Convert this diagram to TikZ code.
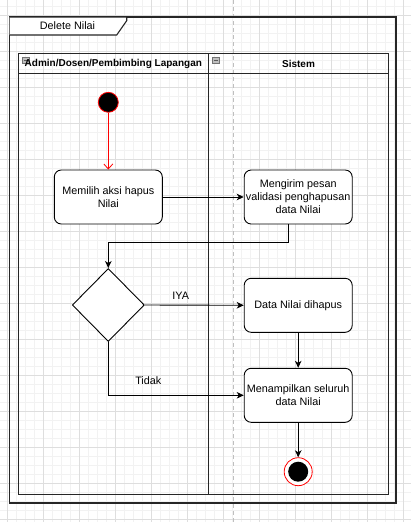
\documentclass[tikz,border=0pt]{standalone}
\usepackage{fontspec}
\setmainfont{Liberation Sans}
\usetikzlibrary{shapes.geometric,arrows.meta}
\begin{document}
\begin{tikzpicture}[x=1pt,y=-1pt,
  every node/.style={font=\fontsize{10.8}{13}\selectfont},
  actbox/.style={draw=black,line width=0.9pt,rounded corners=7pt,minimum width=108pt,minimum height=54pt,inner sep=0pt,align=center,fill=white},
  flow/.style={draw=black,line width=0.9pt,-{Stealth[length=7pt,width=6.5pt,inset=2pt]}},
  lane/.style={draw=black!85,line width=1.1pt},
  hdr/.style={font=\fontsize{10}{12}\selectfont\bfseries},
  icon/.style={draw=black!55,fill=black!25,line width=0.4pt}
]
\useasboundingbox (0,0) rectangle (411,522);
\fill[white] (0,0) rectangle (411,522);
% grid
\foreach \i in {0,...,45} {
  \draw[black!5,line width=0.5pt] (7.3+9*\i,0) -- (7.3+9*\i,522);
}
\foreach \i in {0,...,57} {
  \draw[black!5,line width=0.5pt] (0,6.3+9*\i) -- (411,6.3+9*\i);
}
\foreach \i in {0,...,11} {
  \draw[black!13,line width=0.6pt] (7.3+36*\i,0) -- (7.3+36*\i,522);
}
\foreach \i in {0,...,14} {
  \draw[black!13,line width=0.6pt] (0,15.3+36*\i) -- (411,15.3+36*\i);
}
\draw[black!25,line width=0.8pt,dash pattern=on 4pt off 3pt] (233.3,0) -- (233.3,522);

% outer frame
\draw[lane] (9.7,17) rectangle (396,503);
\draw[lane,fill=white] (9.7,17) -- (126.7,17) -- (126.7,20.7) -- (116.7,35) -- (9.7,35);
\node (title) at (67.5,25.5) {Delete Nilai};

% swimlanes
\draw[lane] (18.3,53.3) rectangle (388.7,494.3);
\draw[lane] (18.3,73.3) -- (388.7,73.3);
\draw[lane] (208.3,53.3) -- (208.3,494.3);
\draw[icon] (22.5,57.5) rectangle (29,63.5);
\draw[black!65,line width=0.8pt] (23.5,60.5) -- (28,60.5);
\draw[icon] (212.5,57.5) rectangle (219,63.5);
\draw[black!65,line width=0.8pt] (213.5,60.5) -- (218,60.5);
\node[hdr] (lane1) at (113.3,63.5) {Admin/Dosen/Pembimbing Lapangan};
\node[hdr] (lane2) at (298.5,63.5) {Sistem};

% nodes
\node[circle,draw=red,fill=black,line width=0.8pt,minimum size=20pt,inner sep=0pt] (start) at (108.3,102.3) {};
\node[actbox] (b1) at (108.3,197) {Memilih aksi hapus\\Nilai};
\node[actbox] (b2) at (298.2,197) {Mengirim pesan\\validasi penghapusan\\data Nilai};
\node[diamond,draw=black,line width=0.9pt,minimum width=72pt,minimum height=73pt,inner sep=0pt,fill=white] (dmd) at (108.3,305) {};
\node[actbox] (b3) at (298.2,305.3) {Data Nilai dihapus};
\node[actbox] (b4) at (298.2,395.3) {Menampilkan seluruh\\data Nilai};
\node[circle,draw=red,fill=white,line width=0.8pt,minimum size=28pt,inner sep=0pt] (end) at (298.2,471.7) {};
\node[circle,fill=black,minimum size=20pt,inner sep=0pt] (endin) at (end.center) {};

\coordinate (bend) at (108.3,242.3);

% edges
\draw[red,line width=0.8pt,-{Straight Barb[length=5pt,width=9pt]}] (start) -- (b1);
\draw[flow] (b1) -- (b2);
\draw[flow] ([xshift=-9.9pt]b2.south) |- (bend) -- (dmd.north);
\draw[flow] (dmd.east) -- (b3.west);
\draw[flow] (b3.south) -- (b3.south |- b4.north);
\draw[flow] (dmd.south) |- (b4.west);
\draw[flow] (b4.south) -- (end.north);
\node (iya) at (180.7,295.5) {IYA};
\node (tidak) at (148.3,381) {Tidak};
\end{tikzpicture}
\end{document}
